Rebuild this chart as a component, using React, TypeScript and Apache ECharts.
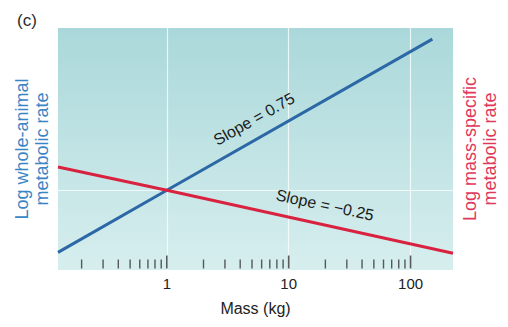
import React, { useEffect, useRef } from "react";
import * as echarts from "echarts";

// Mass (kg) and log metabolic rates
const massWhole = [0.128, 1, 151];
const rateWhole = [-0.67, 0, 1.63];
const massSpecific = [0.128, 1, 223];
const rateSpecific = [0.25, 0, -0.68];
const majorTicks = [1, 10, 100];
const minorTicks = [
  0.2, 0.3, 0.4, 0.5, 0.6, 0.7, 0.8, 0.9,
  2, 3, 4, 5, 6, 7, 8, 9,
  20, 30, 40, 50, 60, 70, 80, 90,
];
const xMin = 0.128;
const xMax = 223;
const yMin = -0.86;
const yMax = 1.75;

const FONT = "'Liberation Sans', Arial, sans-serif";

export default function App() {
  const ref = useRef<HTMLDivElement>(null);
  useEffect(() => {
    if (!ref.current) return;
    const chart = echarts.init(ref.current, null, { renderer: "svg" });
    const isMajor = (v: number) => majorTicks.some((m) => Math.abs(v - m) / m < 1e-6);
    chart.setOption({
      animation: false,
      textStyle: { fontFamily: FONT },
      title: {
        text: "(c)",
        left: 12,
        top: 7,
        textStyle: { fontSize: 17, fontWeight: "normal", color: "#2a2a2a", fontFamily: FONT },
      },
      grid: {
        left: 58,
        right: 51,
        top: 28,
        bottom: 57,
        show: true,
        borderWidth: 0,
        backgroundColor: new echarts.graphic.LinearGradient(0, 0, 0, 1, [
          { offset: 0, color: "#aad8da" },
          { offset: 1, color: "#d7eeee" },
        ]),
      },
      xAxis: {
        type: "log",
        min: xMin,
        max: xMax,
        logBase: 10,
        axisLine: { show: false },
        axisTick: { show: false },
        axisLabel: {
          fontSize: 15,
          color: "#222",
          margin: 6,
          fontFamily: FONT,
          formatter: (v: number) => (isMajor(v) ? String(Math.round(v)) : ""),
        },
        splitLine: {
          show: true,
          showMinLine: false,
          showMaxLine: false,
          lineStyle: { color: "rgba(255,255,255,0.75)", width: 1.2 },
        },
        name: "Mass (kg)",
        nameLocation: "middle",
        nameGap: 30,
        nameTextStyle: { fontSize: 16, color: "#222", fontFamily: FONT },
      },
      yAxis: [
        {
          type: "value",
          min: yMin,
          max: yMax,
          position: "left",
          axisLine: { show: false },
          axisTick: { show: false },
          axisLabel: { show: false },
          splitLine: { show: false },
          name: "Log whole-animal\nmetabolic rate",
          nameLocation: "middle",
          nameRotate: 90,
          nameGap: 6,
          nameTextStyle: { fontSize: 18, lineHeight: 20, color: "#3a85c4", fontFamily: FONT },
        },
        {
          type: "value",
          min: yMin,
          max: yMax,
          position: "right",
          axisLine: { show: false },
          axisTick: { show: false },
          axisLabel: { show: false },
          splitLine: { show: false },
          name: "Log mass-specific\nmetabolic rate",
          nameLocation: "middle",
          nameRotate: 90,
          nameGap: 7,
          nameTextStyle: { fontSize: 18, lineHeight: 20, color: "#e0385b", fontFamily: FONT },
        },
      ],
      series: [
        {
          type: "line",
          name: "whole",
          data: massWhole.map((m, i) => [m, rateWhole[i]]),
          showSymbol: false,
          symbol: "none",
          lineStyle: { color: "#2c67a6", width: 3 },
          z: 3,
          markLine: {
            silent: true,
            symbol: "none",
            label: { show: false },
            lineStyle: { color: "rgba(255,255,255,0.75)", width: 1.2, type: "solid" },
            data: [{ yAxis: 0 }],
            z: 1,
          },
        },
        {
          type: "line",
          name: "specific",
          yAxisIndex: 1,
          data: massSpecific.map((m, i) => [m, rateSpecific[i]]),
          showSymbol: false,
          symbol: "none",
          lineStyle: { color: "#d8223f", width: 3 },
          z: 4,
        },
        {
          type: "scatter",
          name: "minor",
          data: minorTicks.map((m) => [m, yMin]),
          symbol: "rect",
          symbolSize: [1.4, 9],
          symbolOffset: [0, -6],
          itemStyle: { color: "#333" },
          silent: true,
        },
        {
          type: "scatter",
          name: "major",
          data: majorTicks.map((m) => [m, yMin]),
          symbol: "rect",
          symbolSize: [1.6, 13],
          symbolOffset: [0, -8],
          itemStyle: { color: "#333" },
          silent: true,
        },
      ],
      graphic: [
        {
          type: "text",
          x: 254,
          y: 119,
          rotation: (29.5 * Math.PI) / 180,
          style: {
            text: "Slope = 0.75",
            fontSize: 16,
            fontFamily: FONT,
            fill: "#1a1a1a",
            align: "center",
            verticalAlign: "middle",
          },
          z: 10,
        },
        {
          type: "text",
          x: 325,
          y: 205,
          rotation: (-12 * Math.PI) / 180,
          style: {
            text: "Slope = \u22120.25",
            fontSize: 16,
            fontFamily: FONT,
            fill: "#1a1a1a",
            align: "center",
            verticalAlign: "middle",
          },
          z: 10,
        },
      ],
    });
    return () => chart.dispose();
  }, []);
  return <div ref={ref} style={{ width: 508, height: 327, position: "absolute", left: 0, top: 0 }} />;
}
